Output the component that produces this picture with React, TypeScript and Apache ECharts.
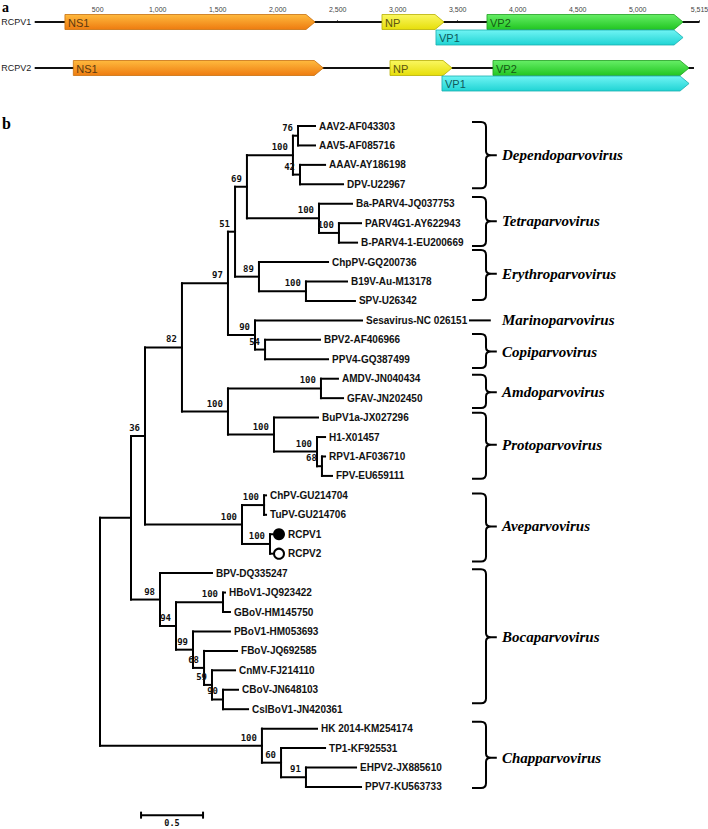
import React, { useEffect, useRef } from "react";
import * as echarts from "echarts";

// ---------- Panel a: genome map ----------
const mapTicks = [500, 1000, 1500, 2000, 2500, 3000, 3500, 4000, 4500, 5000, 5515];
const genomeNames = ["RCPV1", "RCPV2"];
const genomeLengths = [5515, 5469];
const orfNames = ["NS1", "NP", "VP2", "VP1", "NS1", "NP", "VP2", "VP1"];
const orfGenome = [0, 0, 0, 0, 1, 1, 1, 1];
const orfLane = [0, 0, 0, 1, 0, 0, 0, 1];
const orfStart = [227, 2869, 3744, 3319, 297, 2936, 3794, 3369];
const orfEnd = [2311, 3386, 5378, 5378, 2380, 3453, 5428, 5428];

// ---------- Panel b: phylogenetic tree ----------
const leafNames = [
  "AAV2-AF043303", "AAV5-AF085716", "AAAV-AY186198", "DPV-U22967",
  "Ba-PARV4-JQ037753", "PARV4G1-AY622943", "B-PARV4-1-EU200669",
  "ChpPV-GQ200736", "B19V-Au-M13178", "SPV-U26342",
  "Sesavirus-NC 026151",
  "BPV2-AF406966", "PPV4-GQ387499",
  "AMDV-JN040434", "GFAV-JN202450",
  "BuPV1a-JX027296", "H1-X01457", "RPV1-AF036710", "FPV-EU659111",
  "ChPV-GU214704", "TuPV-GU214706", "RCPV1", "RCPV2",
  "BPV-DQ335247", "HBoV1-JQ923422", "GBoV-HM145750", "PBoV1-HM053693",
  "FBoV-JQ692585", "CnMV-FJ214110", "CBoV-JN648103", "CslBoV1-JN420361",
  "HK 2014-KM254174", "TP1-KF925531", "EHPV2-JX885610", "PPV7-KU563733",
];
const leafParents = [
  "D76", "D76", "D42", "D42",
  "T100", "T00", "T00",
  "E89", "E100", "E100",
  "M90",
  "P54", "P54",
  "A100", "A100",
  "PR100", "PR100b", "PR68", "PR68",
  "AV100a", "AV100a", "AV100b", "AV100b",
  "B98", "B100", "B100", "B99",
  "B68", "B59", "B90", "B90",
  "CH100", "CH60", "CH91", "CH91",
];
const leafDepths = [
  1.734, 1.734, 1.815, 1.96,
  2.032, 2.105, 2.073,
  1.839, 1.992, 2.056,
  2.113,
  1.774, 1.839,
  1.919, 1.96,
  1.758, 1.815, 1.815, 1.871,
  1.339, 1.339, 1.387, 1.387,
  0.903, 1.008, 1.048, 1.048,
  1.105, 1.089, 1.113, 1.194,
  1.75, 1.815, 2.065, 2.105,
];
const leafMarkers: Record<string, string> = { RCPV1: "filled", RCPV2: "open" };

// [id, parent, depth, bootstrap]
const innerNodes: [string, string | null, number, number | null][] = [
  ["R", null, 0, null],
  ["IN", "R", 0.25, null],
  ["C36", "IN", 0.363, 36],
  ["C82", "C36", 0.661, 82],
  ["C97", "C82", 1.032, 97],
  ["C51", "C97", 1.089, 51],
  ["C69", "C51", 1.185, 69],
  ["D100", "C69", 1.556, 100],
  ["D76", "D100", 1.597, 76],
  ["D42", "D100", 1.613, 42],
  ["T100", "C69", 1.766, 100],
  ["T00", "T100", 1.927, 100],
  ["E89", "C51", 1.282, 89],
  ["E100", "E89", 1.661, 100],
  ["M90", "C97", 1.25, 90],
  ["P54", "M90", 1.331, 54],
  ["AP100", "C82", 1.032, 100],
  ["A100", "AP100", 1.782, 100],
  ["PR100", "AP100", 1.403, 100],
  ["PR100b", "PR100", 1.75, 100],
  ["PR68", "PR100b", 1.79, 68],
  ["AV100", "C36", 1.145, 100],
  ["AV100a", "AV100", 1.323, 100],
  ["AV100b", "AV100", 1.371, 100],
  ["B98", "IN", 0.484, 98],
  ["B94", "B98", 0.613, 94],
  ["B100", "B94", 0.992, 100],
  ["B99", "B94", 0.75, 99],
  ["B68", "B99", 0.839, 68],
  ["B59", "B68", 0.903, 59],
  ["B90", "B59", 0.992, 90],
  ["CH100", "R", 1.306, 100],
  ["CH60", "CH100", 1.46, 60],
  ["CH91", "CH60", 1.661, 91],
];

const genusNames = [
  "Dependoparvovirus", "Tetraparvovirus", "Erythroparvovirus", "Marinoparvovirus",
  "Copiparvovirus", "Amdoparvovirus", "Protoparvovirus", "Aveparvovirus",
  "Bocaparvovirus", "Chapparvovirus",
];
const genusTop = [-0.2, 3.65, 6.38, 10, 10.7, 12.8, 14.75, 18.9, 22.8, 30.65];
const genusBottom = [3.2, 6.17, 8.95, 10, 12.45, 14.5, 18.15, 22.4, 29.7, 34.05];
const genusMid = [1.5, 4.9, 7.6, 10, 11.6, 13.7, 16.4, 20.6, 26.3, 32.5];

const scaleBarStart = 0.331;
const scaleBarLength = 0.5;
const scaleBarRow = 35.45;

function buildTree() {
  const depth: Record<string, number> = {};
  const parent: Record<string, string | null> = {};
  const boot: Record<string, number | null> = {};
  const innerKids: Record<string, string[]> = {};
  const leafKids: Record<string, number[]> = {};
  innerNodes.forEach(([id, p, d, b]) => {
    depth[id] = d;
    parent[id] = p;
    boot[id] = b;
    innerKids[id] = [];
    leafKids[id] = [];
  });
  innerNodes.forEach(([id, p]) => {
    if (p) innerKids[p].push(id);
  });
  leafParents.forEach((p, i) => leafKids[p].push(i));
  const yOf: Record<string, number> = {};
  const span: Record<string, [number, number]> = {};
  const resolve = (id: string): number => {
    if (id in yOf) return yOf[id];
    const ys = [...leafKids[id], ...innerKids[id].map(resolve)];
    const lo = Math.min(...ys);
    const hi = Math.max(...ys);
    span[id] = [lo, hi];
    yOf[id] = (lo + hi) / 2;
    return yOf[id];
  };
  const rows: number[][] = [];
  const meta: { label: string | null; boot: number | null; leaf: boolean; marker: string | null }[] = [];
  innerNodes.forEach(([id]) => {
    const y = resolve(id);
    const p = parent[id];
    rows.push([depth[id], y, p ? depth[p] : depth[id], span[id][0], span[id][1]]);
    meta.push({ label: null, boot: boot[id], leaf: false, marker: null });
  });
  leafNames.forEach((name, i) => {
    rows.push([leafDepths[i], i, depth[leafParents[i]], i, i]);
    meta.push({ label: name, boot: null, leaf: true, marker: leafMarkers[name] || null });
  });
  return { rows, meta };
}

const orfColors: Record<string, { top: string; bottom: string; stroke: string; text: string }> = {
  NS1: { top: "#FFBA3E", bottom: "#EE7C10", stroke: "#C8700E", text: "#5C3A10" },
  NP: { top: "#FAF760", bottom: "#E6DE0A", stroke: "#B8B000", text: "#5A5410" },
  VP2: { top: "#66EE66", bottom: "#22C622", stroke: "#1FA01F", text: "#145A14" },
  VP1: { top: "#70F4F4", bottom: "#20D4D4", stroke: "#1AAFAF", text: "#0F5A5A" },
};

const LANE = 0.337;
const SANS = '"Liberation Sans", Arial, sans-serif';
const SERIF = '"Liberation Serif", "Times New Roman", serif';
const MONO = '"DejaVu Sans Mono", monospace';

export default function App() {
  const ref = useRef<HTMLDivElement>(null);
  useEffect(() => {
    if (!ref.current) return;
    const chart = echarts.init(ref.current, undefined, { renderer: "svg" });
    const tree = buildTree();

    const orfData = orfNames.map((n, i) => [orfStart[i], orfEnd[i], orfGenome[i] + orfLane[i] * LANE]);
    const backboneData = genomeNames.map((g, i) => [0, genomeLengths[i], i]);
    const braceData = genusNames.map((g, i) => [genusTop[i], genusBottom[i], genusMid[i]]);

    const option: any = {
      animation: false,
      backgroundColor: "#ffffff",
      grid: [
        { left: 37.7, top: 14, width: 661.8, height: 81.6, outerBoundsMode: "none", containLabel: false },
        { left: 100, top: 106.56, width: 595.2, height: 719.28, outerBoundsMode: "none", containLabel: false },
      ],
      xAxis: [
        {
          type: "value", gridIndex: 0, min: 0, max: 5515, interval: 500, position: "top",
          axisLine: { show: false }, splitLine: { show: false },
          axisTick: { show: true, length: 2, lineStyle: { color: "#666", width: 1 }, customValues: mapTicks },
          axisLabel: {
            customValues: mapTicks, fontSize: 7, color: "#444", margin: 1, fontFamily: SANS,
            showMaxLabel: true,
            formatter: (v: number) => v.toLocaleString("en-US"),
          },
        },
        { type: "value", gridIndex: 1, min: 0, max: 4.8, show: false },
      ],
      yAxis: [
        { type: "value", gridIndex: 0, min: -0.174, max: 1.6, inverse: true, show: false },
        { type: "value", gridIndex: 1, min: -1, max: 36, inverse: true, show: false },
      ],
      graphic: [
        { type: "text", left: 2, top: 0, style: { text: "a", font: `bold 14px ${SERIF}`, fill: "#000" } },
        { type: "text", left: 2, top: 115, style: { text: "b", font: `bold 16px ${SERIF}`, fill: "#000" } },
      ],
      series: [
        {
          type: "custom", xAxisIndex: 0, yAxisIndex: 0, clip: false, data: backboneData,
          renderItem: (params: any, api: any) => {
            const a = api.coord([api.value(0), api.value(2)]);
            const b = api.coord([api.value(1), api.value(2)]);
            return {
              type: "group",
              children: [
                { type: "line", shape: { x1: a[0] - 3, y1: a[1], x2: b[0], y2: b[1] }, style: { stroke: "#111", lineWidth: 2 } },
                {
                  type: "text", x: a[0] - 36.5, y: a[1],
                  style: { text: genomeNames[params.dataIndex], fill: "#222", fontSize: 9, fontFamily: SANS, align: "left", verticalAlign: "middle" },
                },
              ],
            };
          },
        },
        {
          type: "custom", xAxisIndex: 0, yAxisIndex: 0, clip: false, data: orfData,
          renderItem: (params: any, api: any) => {
            const name = orfNames[params.dataIndex];
            const c = orfColors[name];
            const a = api.coord([api.value(0), api.value(2)]);
            const b = api.coord([api.value(1), api.value(2)]);
            const h = 7.5;
            const head = Math.min(9, (b[0] - a[0]) * 0.5);
            const pts = [
              [a[0], a[1] - h], [b[0] - head, a[1] - h], [b[0], a[1]], [b[0] - head, a[1] + h], [a[0], a[1] + h],
            ];
            return {
              type: "group",
              children: [
                {
                  type: "polygon", shape: { points: pts },
                  style: {
                    fill: new echarts.graphic.LinearGradient(0, 0, 0, 1, [
                      { offset: 0, color: c.top }, { offset: 1, color: c.bottom },
                    ]),
                    stroke: c.stroke, lineWidth: 0.8,
                  },
                },
                {
                  type: "text", x: a[0] + 3, y: a[1] + 0.5,
                  style: { text: name, fill: c.text, fontSize: 11, fontFamily: SANS, align: "left", verticalAlign: "middle" },
                },
              ],
            };
          },
        },
        {
          type: "custom", xAxisIndex: 1, yAxisIndex: 1, clip: false, data: tree.rows,
          renderItem: (params: any, api: any) => {
            const m = tree.meta[params.dataIndex];
            const p = api.coord([api.value(0), api.value(1)]);
            const pp = api.coord([api.value(2), api.value(1)]);
            const children: any[] = [];
            if (m.boot !== null) {
              children.push({
                type: "text", x: p[0] - 5, y: p[1] - 8,
                style: { text: String(m.boot), fill: "#111", fontSize: 9, fontWeight: "bold", fontFamily: MONO, align: "right", verticalAlign: "middle" },
              });
            }
            if (pp[0] !== p[0]) {
              children.push({
                type: "line", shape: { x1: pp[0], y1: p[1], x2: p[0], y2: p[1] },
                style: { stroke: "#000", lineWidth: 2, lineCap: "square" },
              });
            }
            if (!m.leaf) {
              const t = api.coord([api.value(0), api.value(3)]);
              const bt = api.coord([api.value(0), api.value(4)]);
              children.push({
                type: "line", shape: { x1: p[0], y1: t[1], x2: p[0], y2: bt[1] },
                style: { stroke: "#000", lineWidth: 2, lineCap: "square" },
              });
            } else {
              let lx = p[0] + 4;
              if (m.marker) {
                children.push({
                  type: "circle", shape: { cx: p[0] + 7, cy: p[1], r: m.marker === "filled" ? 6 : 5 },
                  style: m.marker === "filled" ? { fill: "#000" } : { fill: "#fff", stroke: "#000", lineWidth: 2 },
                });
                lx = p[0] + 16;
              }
              children.push({
                type: "text", x: lx, y: p[1],
                style: { text: m.label, fill: "#111", fontSize: 10, fontWeight: "bold", fontFamily: SANS, align: "left", verticalAlign: "middle" },
              });
            }
            return { type: "group", children };
          },
        },
        {
          type: "custom", xAxisIndex: 1, yAxisIndex: 1, clip: false, data: braceData,
          renderItem: (params: any, api: any) => {
            const i = params.dataIndex;
            const top = api.coord([3.0, api.value(0)]);
            const bot = api.coord([3.0, api.value(1)]);
            const mid = api.coord([3.2, api.value(2)]);
            const x0 = top[0];
            const x1 = api.coord([3.113, 0])[0];
            const xt = mid[0];
            const lx = api.coord([3.242, 0])[0];
            const children: any[] = [];
            if (api.value(0) === api.value(1)) {
              children.push({
                type: "line", shape: { x1: x0 - 3, y1: mid[1], x2: xt - 6, y2: mid[1] },
                style: { stroke: "#000", lineWidth: 2 },
              });
            } else {
              const yT = top[1], yB = bot[1], yM = mid[1];
              const d =
                `M ${x0} ${yT} L ${x1 - 5} ${yT} Q ${x1} ${yT} ${x1} ${yT + 5} L ${x1} ${yM - 4} Q ${x1} ${yM} ${x1 + 5} ${yM} L ${xt} ${yM} ` +
                `M ${x1 + 5} ${yM} Q ${x1} ${yM} ${x1} ${yM + 4} L ${x1} ${yB - 5} Q ${x1} ${yB} ${x1 - 5} ${yB} L ${x0} ${yB}`;
              children.push({ type: "path", shape: { pathData: d }, style: { fill: "none", stroke: "#000", lineWidth: 2 } });
            }
            children.push({
              type: "text", x: lx, y: mid[1],
              style: {
                text: genusNames[i], fill: "#000", fontSize: 15, fontWeight: "bold", fontStyle: "italic",
                fontFamily: SERIF, align: "left", verticalAlign: "middle",
              },
            });
            return { type: "group", children };
          },
        },
        {
          type: "custom", xAxisIndex: 1, yAxisIndex: 1, clip: false,
          data: [[scaleBarStart, scaleBarStart + scaleBarLength, scaleBarRow]],
          renderItem: (params: any, api: any) => {
            const a = api.coord([api.value(0), api.value(2)]);
            const b = api.coord([api.value(1), api.value(2)]);
            return {
              type: "group",
              children: [
                { type: "line", shape: { x1: a[0], y1: a[1], x2: b[0], y2: b[1] }, style: { stroke: "#000", lineWidth: 2 } },
                { type: "line", shape: { x1: a[0], y1: a[1] - 3.5, x2: a[0], y2: a[1] + 3.5 }, style: { stroke: "#000", lineWidth: 2 } },
                { type: "line", shape: { x1: b[0], y1: b[1] - 3.5, x2: b[0], y2: b[1] + 3.5 }, style: { stroke: "#000", lineWidth: 2 } },
                {
                  type: "text", x: (a[0] + b[0]) / 2, y: a[1] + 7.5,
                  style: { text: String(scaleBarLength), fill: "#111", fontSize: 8.5, fontWeight: "bold", fontFamily: MONO, align: "center", verticalAlign: "middle" },
                },
              ],
            };
          },
        },
      ],
    };
    chart.setOption(option);
    return () => chart.dispose();
  }, []);
  return <div ref={ref} style={{ position: "fixed", left: 0, top: 0, width: 708, height: 829, background: "#fff" }} />;
}
